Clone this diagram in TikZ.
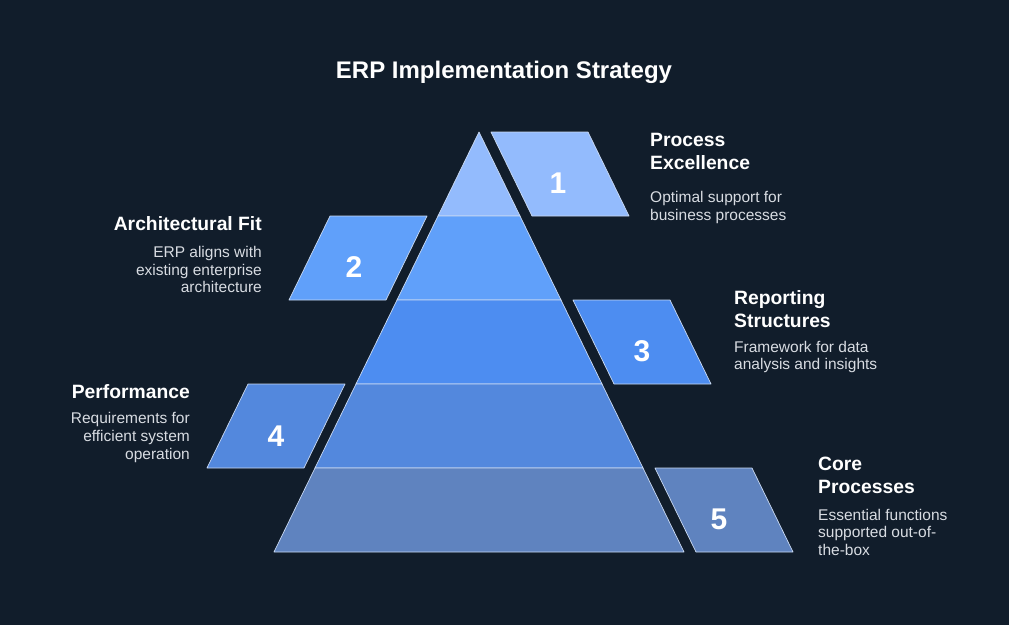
\documentclass[tikz,border=0pt]{standalone}
\usepackage{fontspec}
\setmainfont{Liberation Sans}
\definecolor{bgdark}{HTML}{111D2B}
\definecolor{tierA}{HTML}{93BBFD}
\definecolor{tierB}{HTML}{60A0FA}
\definecolor{tierC}{HTML}{4D8DF1}
\definecolor{tierD}{HTML}{5388DD}
\definecolor{tierE}{HTML}{5F83BF}
\definecolor{edgeline}{HTML}{C9D9F2}
\definecolor{desccol}{HTML}{D8DCE2}
\begin{document}
\begin{tikzpicture}[x=1pt, y=-1pt,
        tier/.style={draw=edgeline, line width=0.7pt, line join=round},
        tiernum/.style={text=white, inner sep=0, font=\bfseries\fontsize{30}{30}\selectfont},
        headtext/.style={inner sep=0, text=white, font=\bfseries\fontsize{19.3}{23}\selectfont},
        desctext/.style={inner sep=0, text=desccol, font=\fontsize{15.5}{17.7}\selectfont}]
        \fill[bgdark] (0, 0) rectangle (1009, 625);
        \node[anchor=base, inner sep=0, text=white, font=\bfseries\fontsize{24}{24}\selectfont] (title) at (504, 78) {ERP Implementation Strategy};

        % pyramid, top to bottom
        \draw[tier, fill=tierA] (479, 132) -- (520, 216) -- (438, 216) -- cycle;
        \draw[tier, fill=tierB] (438, 216) -- (520, 216) -- (561, 300) -- (397, 300) -- cycle;
        \draw[tier, fill=tierC] (397, 300) -- (561, 300) -- (602, 384) -- (356, 384) -- cycle;
        \draw[tier, fill=tierD] (356, 384) -- (602, 384) -- (643, 468) -- (315, 468) -- cycle;
        \draw[tier, fill=tierE] (315, 468) -- (643, 468) -- (684, 552) -- (274, 552) -- cycle;

        % side panels
        \draw[tier, fill=tierA] (491, 132) -- (588, 132) -- (629, 216) -- (532, 216) -- cycle;
        \draw[tier, fill=tierB] (330, 216) -- (427, 216) -- (386, 300) -- (289, 300) -- cycle;
        \draw[tier, fill=tierC] (573, 300) -- (670, 300) -- (711, 384) -- (614, 384) -- cycle;
        \draw[tier, fill=tierD] (248, 384) -- (345, 384) -- (304, 468) -- (207, 468) -- cycle;
        \draw[tier, fill=tierE] (655, 468) -- (752, 468) -- (793, 552) -- (696, 552) -- cycle;

        \node[tiernum] (n1) at (558, 183) {1};
        \node[tiernum] (n2) at (354, 267) {2};
        \node[tiernum] (n3) at (642, 351) {3};
        \node[tiernum] (n4) at (276, 436) {4};
        \node[tiernum] (n5) at (719, 519) {5};

        % texts
        \node[headtext, anchor=north west, align=left] (h1) at (650, 132.7) {Process\\Excellence};
        \node[desctext, anchor=north west, align=left] (d1) at (650, 191) {Optimal support for\\business processes};
        \node[headtext, anchor=north east, align=right] (h2) at (262, 216.7) {Architectural Fit};
        \node[desctext, anchor=north east, align=right] (d2) at (262, 246) {ERP aligns with\\existing enterprise\\architecture};
        \node[headtext, anchor=north west, align=left] (h3) at (734, 290.2) {Reporting\\Structures};
        \node[desctext, anchor=north west, align=left] (d3) at (734, 340.7) {Framework for data\\analysis and insights};
        \node[headtext, anchor=north east, align=right] (h4) at (190, 384.5) {Performance};
        \node[desctext, anchor=north east, align=right] (d4) at (190, 412.2) {Requirements for\\efficient system\\operation};
        \node[headtext, anchor=north west, align=left] (h5) at (818, 456.7) {Core\\Processes};
        \node[desctext, anchor=north west, align=left] (d5) at (818, 508.7) {Essential functions\\supported out-of-\\the-box};
\end{tikzpicture}
\end{document}
